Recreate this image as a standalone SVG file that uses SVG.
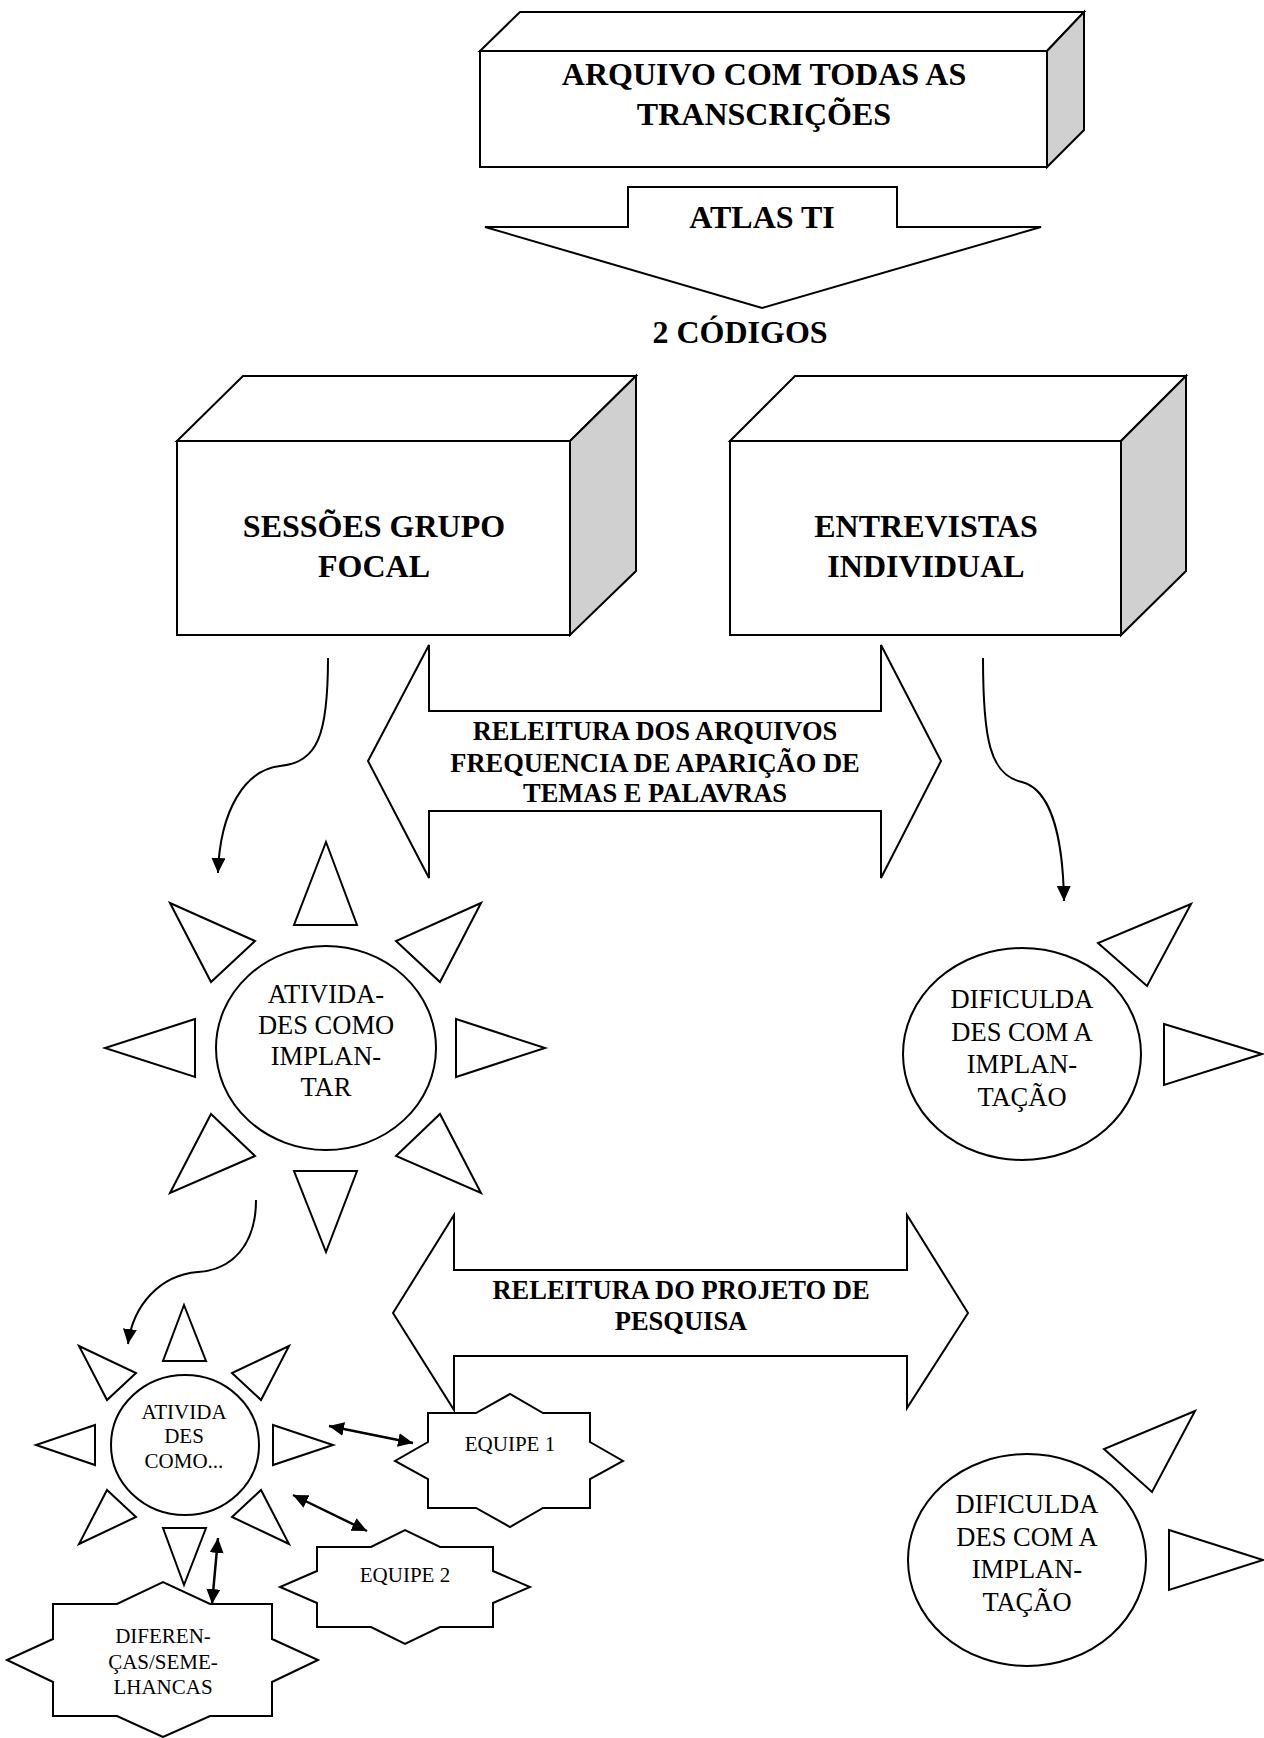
<svg xmlns="http://www.w3.org/2000/svg" width="1264" height="1738" viewBox="0 0 1264 1738">
<style>
.s{fill:#fff;stroke:#000;stroke-width:2;stroke-linejoin:miter}
.side{fill:#d0d0d0;stroke:#000;stroke-width:2}
.b{font-family:"Liberation Serif","Times New Roman",serif;font-weight:bold;fill:#000;text-anchor:middle}
.r{font-family:"Liberation Serif","Times New Roman",serif;fill:#000;text-anchor:middle}
.c{fill:none;stroke:#000;stroke-width:2}
.d{fill:none;stroke:#000;stroke-width:2.5}
</style>
<defs>
<marker id="ah" markerUnits="userSpaceOnUse" markerWidth="16" markerHeight="14" refX="15" refY="7" orient="auto"><path d="M0,0 L15,7 L0,14 z" fill="#000"/></marker>
<marker id="ah2" markerUnits="userSpaceOnUse" markerWidth="16" markerHeight="14" refX="15" refY="7" orient="auto-start-reverse"><path d="M0,0 L15,7 L0,14 z" fill="#000"/></marker>
</defs>

<g id="arquivo">
<polygon class="s" points="480,51 520,12 1084,12 1047,51"/>
<polygon class="side" points="1047,51 1084,12 1084,130 1047,167"/>
<rect class="s" x="480" y="51" width="567" height="116"/>
<text class="b" font-size="32" x="764" y="85">ARQUIVO COM TODAS AS</text>
<text class="b" font-size="32" x="764" y="125">TRANSCRIÇÕES</text>
</g>

<g id="atlas">
<polygon class="s" points="628,187 897,187 897,227 1041,227 762,308 485,227 628,227"/>
<text class="b" font-size="32" x="762" y="228">ATLAS TI</text>
</g>

<g id="codigos">
<text class="b" font-size="32" x="740" y="343">2 CÓDIGOS</text>
</g>

<g id="sessoes">
<polygon class="s" points="177,441 243,376 636,376 570,441"/>
<polygon class="side" points="570,441 636,376 636,571 570,635"/>
<rect class="s" x="177" y="441" width="393" height="194"/>
<text class="b" font-size="32" x="374" y="537">SESSÕES GRUPO</text>
<text class="b" font-size="32" x="374" y="577">FOCAL</text>
</g>

<g id="entrevistas">
<polygon class="s" points="730,441 795,376 1186,376 1121,441"/>
<polygon class="side" points="1121,441 1186,376 1186,571 1121,635"/>
<rect class="s" x="730" y="441" width="391" height="194"/>
<text class="b" font-size="32" x="926" y="537">ENTREVISTAS</text>
<text class="b" font-size="32" x="926" y="577">INDIVIDUAL</text>
</g>

<g id="releitura1">
<polygon class="s" points="429,645 429,711 881,711 881,645 941,761 881,878 881,811 429,811 429,878 368,761"/>
<text class="b" font-size="26.5" x="655" y="740">RELEITURA DOS ARQUIVOS</text>
<text class="b" font-size="26.5" x="655" y="772">FREQUENCIA DE APARIÇÃO DE</text>
<text class="b" font-size="26.5" x="655" y="802">TEMAS E PALAVRAS</text>
</g>

<g id="atividades">
<polygon class="s" points="326,842 357,925 294,925"/>
<polygon class="s" points="481,903 396,941 440,982"/>
<polygon class="s" points="456,1019 545,1048 456,1077"/>
<polygon class="s" points="396,1156 440,1114 481,1193"/>
<polygon class="s" points="294,1171 357,1171 326,1252"/>
<polygon class="s" points="211,1114 255,1156 170,1193"/>
<polygon class="s" points="195,1019 105,1048 195,1077"/>
<polygon class="s" points="170,903 255,941 211,982"/>
<ellipse class="s" cx="326" cy="1048" rx="110" ry="102"/>
<text class="r" font-size="26.5" x="326" y="1003">ATIVIDA-</text>
<text class="r" font-size="26.5" x="326" y="1034">DES COMO</text>
<text class="r" font-size="26.5" x="326" y="1065">IMPLAN-</text>
<text class="r" font-size="26.5" x="326" y="1096">TAR</text>
</g>

<g id="dificuldades1">
<polygon class="s" points="1191,904 1098,943 1147,986"/>
<polygon class="s" points="1164,1024 1262,1054 1164,1085"/>
<ellipse class="s" cx="1022" cy="1054" rx="119" ry="106"/>
<text class="r" font-size="26.5" x="1022" y="1008">DIFICULDA</text>
<text class="r" font-size="26.5" x="1022" y="1041">DES COM A</text>
<text class="r" font-size="26.5" x="1022" y="1073">IMPLAN-</text>
<text class="r" font-size="26.5" x="1022" y="1106">TAÇÃO</text>
</g>

<g id="releitura2">
<polygon class="s" points="454,1215 454,1270 907,1270 907,1215 968,1313 907,1408 907,1356 454,1356 454,1410 393,1313"/>
<text class="b" font-size="26.5" x="681" y="1299">RELEITURA DO PROJETO DE</text>
<text class="b" font-size="26.5" x="681" y="1330">PESQUISA</text>
</g>

<g id="dificuldades2">
<polygon class="s" points="1195,1411 1104,1449 1152,1492"/>
<polygon class="s" points="1169,1530 1263,1560 1169,1590"/>
<ellipse class="s" cx="1027" cy="1560" rx="119" ry="106"/>
<text class="r" font-size="26.5" x="1027" y="1513">DIFICULDA</text>
<text class="r" font-size="26.5" x="1027" y="1546">DES COM A</text>
<text class="r" font-size="26.5" x="1027" y="1578">IMPLAN-</text>
<text class="r" font-size="26.5" x="1027" y="1611">TAÇÃO</text>
</g>

<g id="atividades2">
<polygon class="s" points="184,1305 206,1361 163,1361"/>
<polygon class="s" points="289,1346 232,1373 261,1400"/>
<polygon class="s" points="273,1425 333,1445 273,1465"/>
<polygon class="s" points="232,1517 261,1490 289,1544"/>
<polygon class="s" points="163,1528 206,1528 184,1585"/>
<polygon class="s" points="107,1490 136,1517 79,1544"/>
<polygon class="s" points="95,1425 36,1445 95,1465"/>
<polygon class="s" points="79,1346 136,1373 107,1400"/>
<ellipse class="s" cx="185" cy="1445" rx="74" ry="70"/>
<text class="r" font-size="21" x="184" y="1419">ATIVIDA</text>
<text class="r" font-size="21" x="184" y="1443">DES</text>
<text class="r" font-size="21" x="184" y="1468">COMO...</text>
</g>

<g id="equipe1">
<polygon class="s" points="428,1413 476,1413 510,1394 543,1413 590,1413 590,1442 623,1461 590,1479 590,1508 543,1508 510,1527 476,1508 428,1508 428,1479 395,1461 428,1442"/>
<text class="r" font-size="21" x="510" y="1451">EQUIPE 1</text>
</g>

<g id="equipe2">
<polygon class="s" points="317,1547 371,1547 405,1530 440,1547 493,1547 493,1571 530,1587 493,1603 493,1627 440,1627 405,1644 371,1627 317,1627 317,1603 280,1587 317,1571"/>
<text class="r" font-size="21" x="405" y="1582">EQUIPE 2</text>
</g>

<g id="diferencas">
<polygon class="s" points="53,1604 117,1604 163,1582 210,1604 272,1604 272,1639 318,1660 272,1682 272,1716 210,1716 163,1737 117,1716 53,1716 53,1682 7,1660 53,1639"/>
<text class="r" font-size="21" x="163" y="1643">DIFEREN-</text>
<text class="r" font-size="21" x="163" y="1669">ÇAS/SEME-</text>
<text class="r" font-size="21" x="163" y="1694">LHANCAS</text>
</g>

<g id="connectors">
<path class="c" d="M328,658 C328,735 318,762 280,766 C245,770 220,810 218,873" marker-end="url(#ah)"/>
<path class="c" d="M983,658 C983,740 990,775 1022,782 C1052,790 1063,840 1064,901" marker-end="url(#ah)"/>
<path class="c" d="M256,1200 C256,1245 232,1270 198,1272 C160,1275 133,1305 128,1344" marker-end="url(#ah)"/>
<line class="d" x1="329" y1="1426" x2="413" y2="1443" marker-start="url(#ah2)" marker-end="url(#ah2)"/>
<line class="d" x1="293" y1="1495" x2="367" y2="1531" marker-start="url(#ah2)" marker-end="url(#ah2)"/>
<line class="d" x1="218" y1="1538" x2="212" y2="1604" marker-start="url(#ah2)" marker-end="url(#ah2)"/>
</g>
</svg>
